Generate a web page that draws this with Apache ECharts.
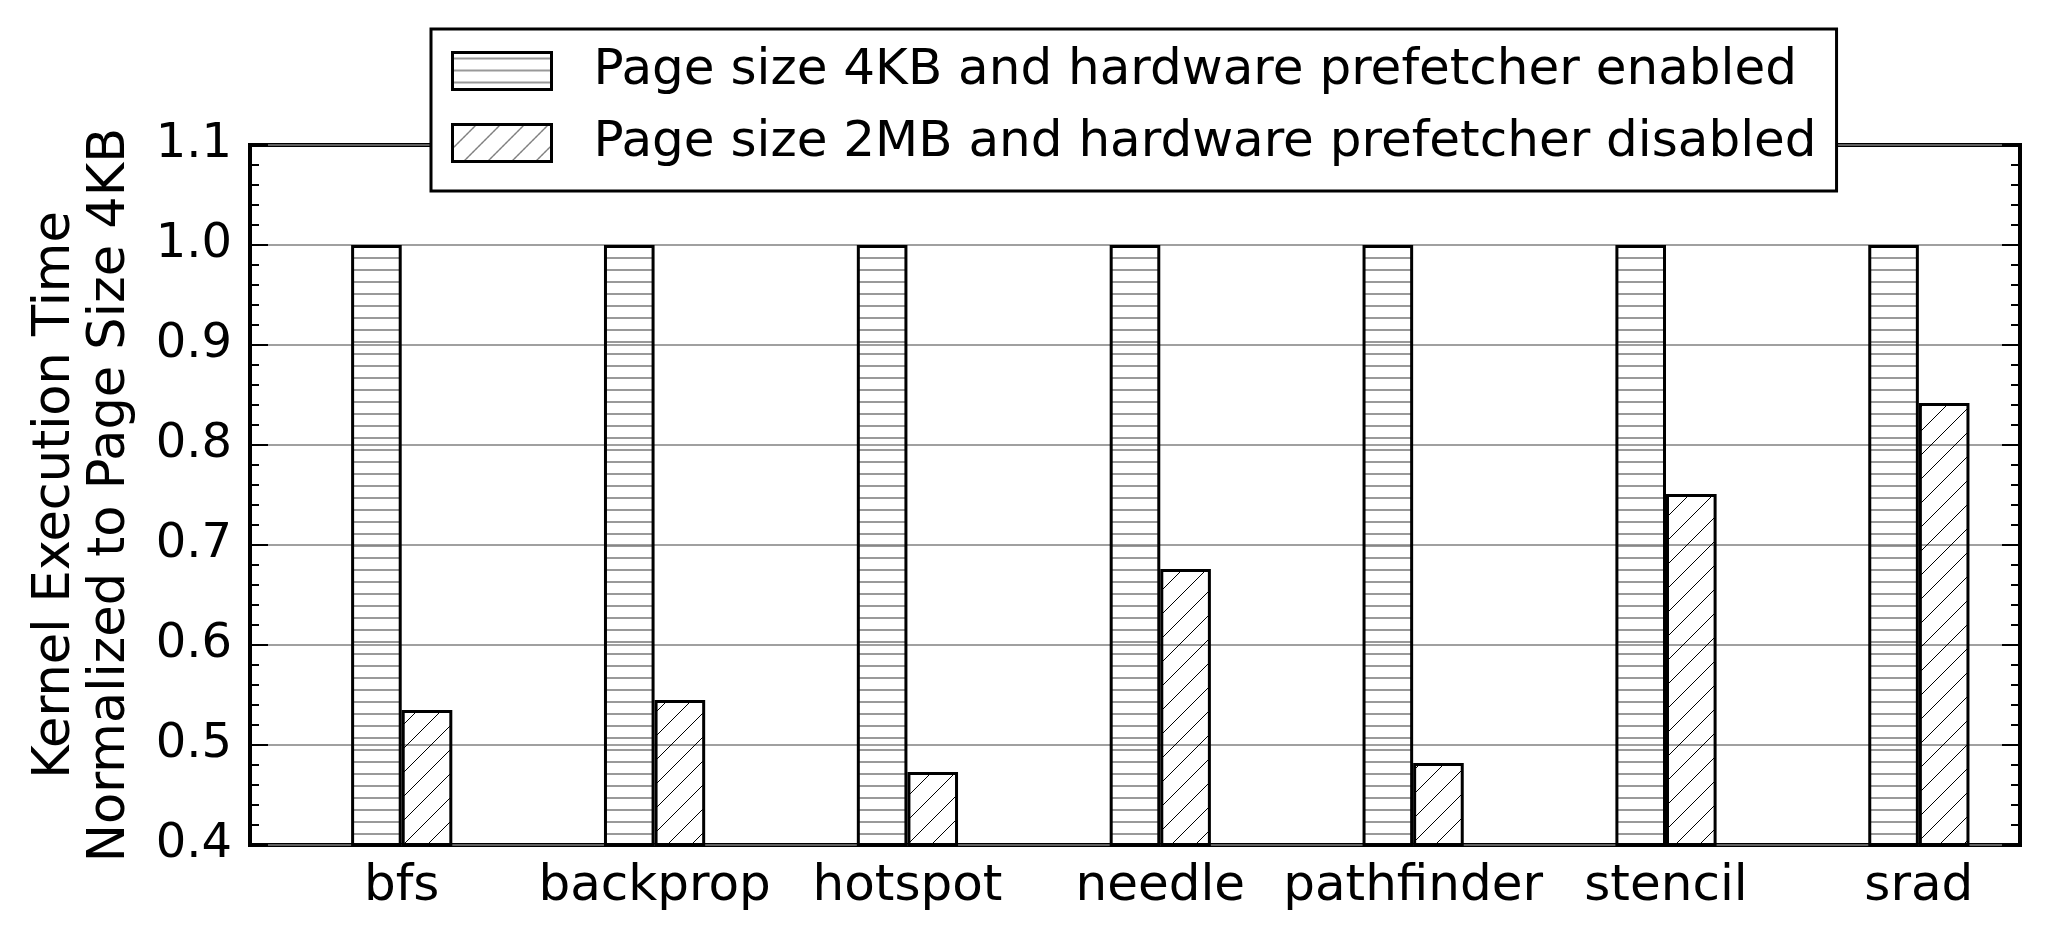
<!DOCTYPE html>
<html>
<head>
<meta charset="utf-8">
<script src="https://cdn.jsdelivr.net/npm/echarts@6/dist/echarts.min.js"></script>
<style>html,body{margin:0;padding:0;background:#fff}#c{width:2049px;height:942px}</style>
</head>
<body>
<div id="c"></div>
<script>
const categories = ['bfs', 'backprop', 'hotspot', 'needle', 'pathfinder', 'stencil', 'srad'];
const seriesNames = ['Page size 4KB and hardware prefetcher enabled', 'Page size 2MB and hardware prefetcher disabled'];
const values4KB = [1.0, 1.0, 1.0, 1.0, 1.0, 1.0, 1.0];
const values2MB = [0.535, 0.545, 0.473, 0.676, 0.482, 0.751, 0.842];
const yAxisTitle = 'Kernel Execution Time\nNormalized to Page Size 4KB';

function hPattern() {
  const c = document.createElement('canvas');
  c.width = 12; c.height = 12;
  const g = c.getContext('2d');
  g.strokeStyle = '#808080'; g.lineWidth = 1.6;
  g.beginPath(); g.moveTo(0, 6); g.lineTo(12, 6); g.stroke();
  return { image: c, repeat: 'repeat' };
}
function dPattern() {
  const c = document.createElement('canvas');
  c.width = 24; c.height = 24;
  const g = c.getContext('2d');
  g.strokeStyle = '#000'; g.lineWidth = 1;
  g.beginPath();
  g.moveTo(-2, 26); g.lineTo(26, -2);
  g.moveTo(-14, 14); g.lineTo(14, -14);
  g.moveTo(10, 38); g.lineTo(38, 10);
  g.stroke();
  return { image: c, repeat: 'repeat' };
}
const pat = [hPattern(), dPattern()];
const FONT = 'DejaVu Sans';

const chart = echarts.init(document.getElementById('c'), null, { renderer: 'canvas' });
const yCommon = {
  type: 'value', min: 0.4, max: 1.1, interval: 0.1,
  axisLine: { show: false, onZero: false },
  axisTick: { show: true, inside: true, length: 18, lineStyle: { color: '#000', width: 2 } },
  minorTick: { show: true, splitNumber: 5, length: 9, lineStyle: { color: '#000', width: 2 } },
};
chart.setOption({
  animation: false,
  backgroundColor: '#fff',
  grid: { left: 250, right: 29, top: 145, bottom: 97, show: true, borderColor: '#000', borderWidth: 4, backgroundColor: 'transparent' },
  legend: {
    orient: 'vertical', left: 431, top: 29,
    padding: [17, 20, 23, 20],
    itemWidth: 99, itemHeight: 37, itemGap: 22,
    backgroundColor: '#fff', borderColor: '#000', borderWidth: 3,
    textStyle: { fontFamily: FONT, fontSize: 50, color: '#000', lineHeight: 50, padding: [0, 0, 0, 37] },
    data: seriesNames.map((n, i) => ({ name: n, icon: 'rect', itemStyle: { color: pat[i], borderColor: '#000', borderWidth: 3 } })),
    z: 10
  },
  xAxis: {
    type: 'value', min: -0.6, max: 6.4, interval: 0.2,
    axisLine: { show: false, onZero: false }, axisTick: { show: false }, splitLine: { show: false },
    axisLabel: {
      fontFamily: FONT, fontSize: 50, color: '#000', margin: 17, showMinLabel: true, showMaxLabel: true,
      formatter: function (v) {
        const r = Math.round(v);
        if (Math.abs(v - r) < 1e-6 && r >= 0 && r < categories.length) return categories[r];
        return '';
      }
    }
  },
  yAxis: [
    Object.assign({}, yCommon, {
      position: 'left',
      name: yAxisTitle, nameLocation: 'middle', nameGap: 112,
      nameTextStyle: { fontFamily: FONT, fontSize: 51, color: '#000', lineHeight: 55 },
      axisLabel: { fontFamily: FONT, fontSize: 48, color: '#000', margin: 18, formatter: v => v.toFixed(1) },
      splitLine: { show: true, lineStyle: { color: '#808080', width: 1.6 } }
    }),
    Object.assign({}, yCommon, {
      position: 'right', axisLabel: { show: false }, splitLine: { show: false }
    })
  ],
  series: [values4KB, values2MB].map((vals, i) => ({
    type: 'bar', name: seriesNames[i], yAxisIndex: 0,
    data: vals.map((v, k) => [k, v]),
    barWidth: 50.6, barGap: '0%',
    itemStyle: { color: pat[i], borderColor: '#000', borderWidth: 3 },
    clip: true
  }))
});
</script>
</body>
</html>
